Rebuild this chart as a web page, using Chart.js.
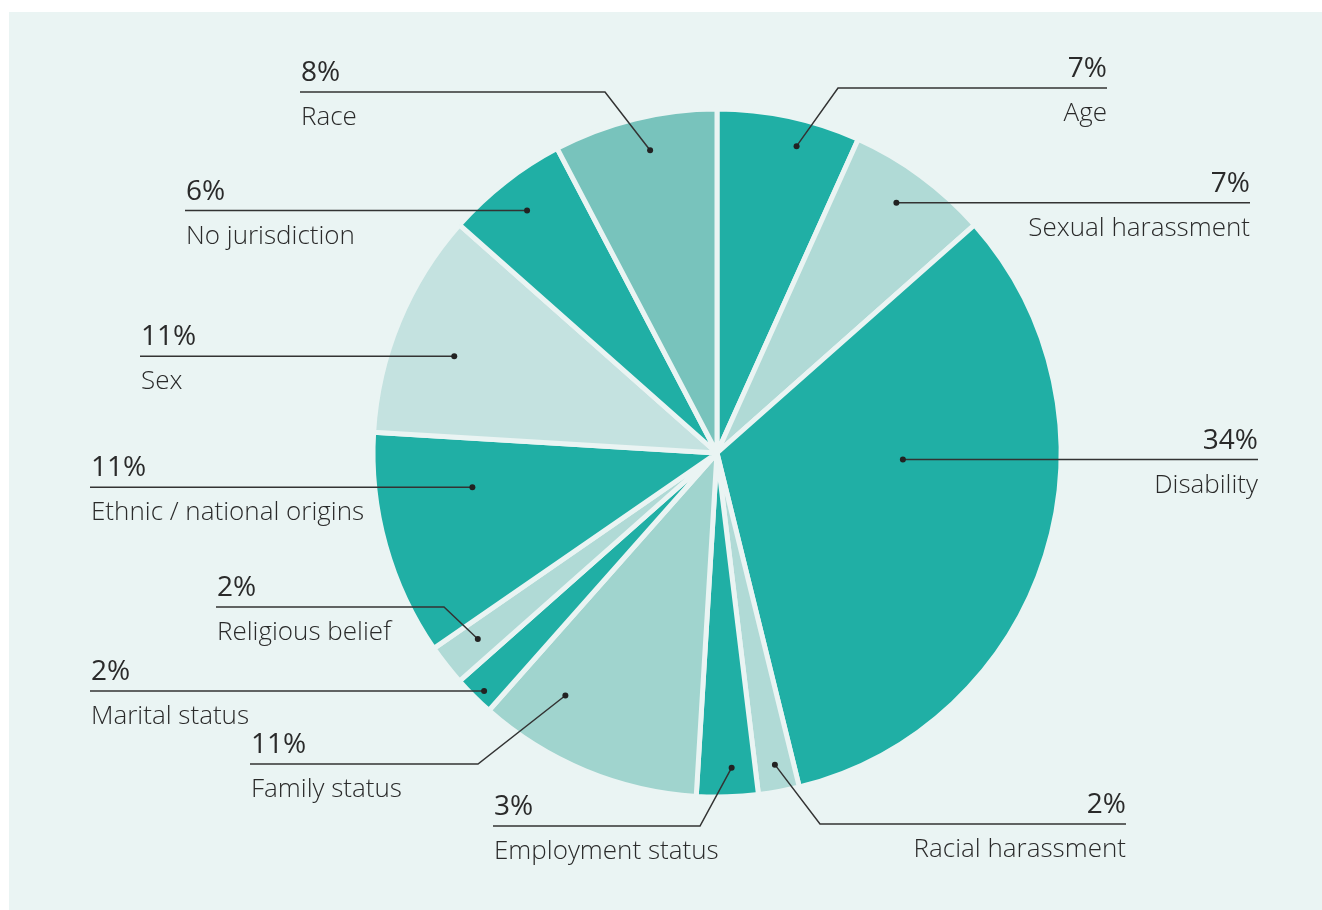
<!DOCTYPE html>
<html>
<head>
<meta charset="utf-8">
<script src="https://cdn.jsdelivr.net/npm/chart.js@4.4.1/dist/chart.umd.min.js"></script>
<style>
  html, body { margin: 0; padding: 0; background: #ffffff; }
  canvas { display: block; }
</style>
</head>
<body>
<canvas id="chart" width="1322" height="910"></canvas>
<script>
// Complaint grounds, clockwise from the top
const categories = [
  'Age', 'Sexual harassment', 'Disability', 'Racial harassment',
  'Employment status', 'Family status', 'Marital status', 'Religious belief',
  'Ethnic / national origins', 'Sex', 'No jurisdiction', 'Race'
];
const shares = [7, 7, 34, 2, 3, 11, 2, 2, 11, 11, 6, 8];
const sliceColors = [
  '#20AFA5', '#B0DAD6', '#20AFA5', '#B0DAD6',
  '#20AFA5', '#A0D4CE', '#20AFA5', '#B0DAD6',
  '#20AFA5', '#C4E2E0', '#20AFA5', '#78C3BC'
];

const panelColor = '#EAF4F3';
const inkColor = '#2A2A2A';

// Callout layout for each slice: dot position inside the slice (fraction of the
// sweep, distance from centre), optional elbow point, and where the rule ends.
const callouts = [
  { side: 'right', end: 1107, elbow: [838, 88],  at: 0.60, dist: 317 },
  { side: 'right', end: 1250, elbow: null,       at: 0.47, dist: 308 },
  { side: 'right', end: 1258, elbow: null,       at: 0.37, dist: 186 },
  { side: 'right', end: 1126, elbow: [820, 824], at: 0.48, dist: 317 },
  { side: 'left',  end: 493,  elbow: [700, 826], at: 0.41, dist: 315 },
  { side: 'left',  end: 250,  elbow: [478, 764], at: 0.75, dist: 286 },
  { side: 'left',  end: 90,   elbow: null,       at: 0.41, dist: 333 },
  { side: 'left',  end: 216,  elbow: [444, 607], at: 0.53, dist: 303 },
  { side: 'left',  end: 90,   elbow: null,       at: 0.70, dist: 247 },
  { side: 'left',  end: 140,  elbow: null,       at: 0.44, dist: 280 },
  { side: 'left',  end: 185,  elbow: null,       at: 0.50, dist: 308 },
  { side: 'left',  end: 300,  elbow: [605, 92],  at: 0.55, dist: 310 }
];

const panelPlugin = {
  id: 'panel',
  beforeDraw(chart) {
    const { ctx, width, height } = chart;
    ctx.save();
    ctx.fillStyle = '#ffffff';
    ctx.fillRect(0, 0, width, height);
    ctx.fillStyle = panelColor;
    ctx.fillRect(9, 12, width - 9, height - 12);
    ctx.restore();
  }
};

const calloutPlugin = {
  id: 'callouts',
  afterDatasetsDraw(chart) {
    const ctx = chart.ctx;
    const arcs = chart.getDatasetMeta(0).data;
    arcs.forEach((arc, i) => {
      const c = callouts[i];
      const p = arc.getProps(['x', 'y', 'startAngle', 'endAngle'], true);
      const a = p.startAngle + (p.endAngle - p.startAngle) * c.at;
      const dotX = p.x + Math.cos(a) * c.dist;
      const dotY = p.y + Math.sin(a) * c.dist;
      const lineY = c.elbow ? c.elbow[1] : dotY;

      ctx.save();
      ctx.strokeStyle = '#333333';
      ctx.lineWidth = 1.5;
      ctx.beginPath();
      ctx.moveTo(dotX, dotY);
      if (c.elbow) ctx.lineTo(c.elbow[0], c.elbow[1]);
      ctx.lineTo(c.end, lineY);
      ctx.stroke();

      ctx.fillStyle = '#222222';
      ctx.beginPath();
      ctx.arc(dotX, dotY, 3, 0, Math.PI * 2);
      ctx.fill();

      const left = c.side === 'left';
      ctx.textAlign = left ? 'left' : 'right';
      ctx.textBaseline = 'alphabetic';
      const tx = left ? c.end + 1 : c.end;
      ctx.fillStyle = inkColor;
      ctx.font = '400 28px "Open Sans"';
      ctx.fillText(shares[i] + '%', tx, lineY - 11);
      ctx.font = '300 26px "Open Sans"';
      ctx.fillText(categories[i], tx, lineY + 33);
      ctx.restore();
    });
  }
};

new Chart(document.getElementById('chart'), {
  type: 'pie',
  data: {
    labels: categories,
    datasets: [{
      data: shares,
      backgroundColor: sliceColors,
      borderColor: panelColor,
      borderWidth: 5,
      hoverOffset: 0
    }]
  },
  options: {
    responsive: false,
    animation: false,
    radius: 344,
    layout: { padding: { left: 112, right: 0, top: 0, bottom: 4 } },
    plugins: {
      legend: { display: false },
      tooltip: { enabled: false }
    },
    events: []
  },
  plugins: [panelPlugin, calloutPlugin]
});
</script>
</body>
</html>
